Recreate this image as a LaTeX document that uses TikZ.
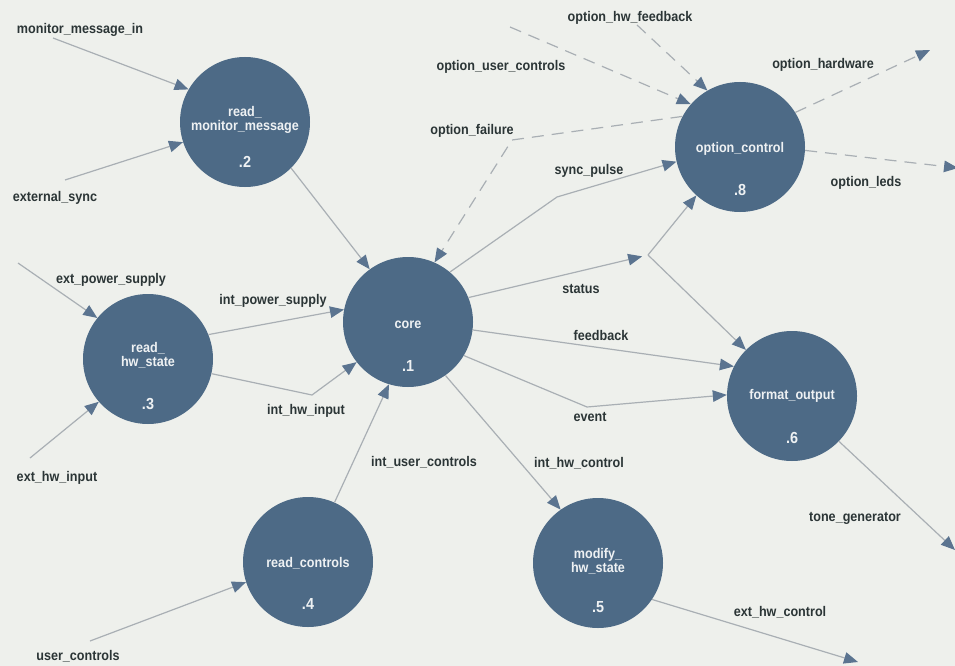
\documentclass[tikz,border=0pt]{standalone}
\usepackage{fontspec}
\setmainfont{Liberation Sans}[FakeStretch=0.9]
\usetikzlibrary{arrows.meta,calc}
\definecolor{paper}{HTML}{EEF0EC}
\definecolor{bubble}{HTML}{4D6A86}
\definecolor{wire}{HTML}{A9AFB4}
\definecolor{tip}{HTML}{5B7490}
\definecolor{ink}{HTML}{2B3536}
\definecolor{inner}{HTML}{EEF1F3}
\begin{document}
\begin{tikzpicture}[x=1pt,y=-1pt,
  proc/.style={circle,fill=bubble,draw=none,minimum size=130pt,inner sep=0pt},
  pname/.style={text=inner,font=\bfseries\fontsize{14}{15}\selectfont,align=center,inner sep=0pt},
  pnum/.style={text=inner,font=\bfseries\fontsize{16}{17}\selectfont,inner sep=0pt},
  flowlabel/.style={text=ink,font=\bfseries\fontsize{14}{15}\selectfont,inner sep=0pt},
  flow/.style={draw=wire,line width=1.2pt,
    -{Triangle[length=14pt,width=11.5pt,fill=tip,color=tip]}},
  optflow/.style={flow,dash pattern=on 12pt off 8pt}]
\useasboundingbox (0,0) rectangle (955,666);
\fill[paper] (0,0) rectangle (955,666);

% processes
\node[proc] (n1) at (408,322) {};
\node[proc] (n2) at (245,122) {};
\node[proc] (n3) at (148,359) {};
\node[proc] (n4) at (308,562) {};
\node[proc] (n5) at (598,563) {};
\node[proc] (n6) at (792,396) {};
\node[proc] (n8) at (740,147) {};

\node[pname] (n1t) at ($(n1)+(0,3)$) {core};
\node[pnum]  (n1n) at ($(n1)+(0,44)$) {.1};
\node[pname] (n2t) at ($(n2)+(0,-2)$) {read\_\\[-1pt]monitor\_message};
\node[pnum]  (n2n) at ($(n2)+(0,40)$) {.2};
\node[pname] (n3t) at ($(n3)+(0,-4)$) {read\_\\[-1pt]hw\_state};
\node[pnum]  (n3n) at ($(n3)+(0,45)$) {.3};
\node[pname] (n4t) at ($(n4)+(0,1)$) {read\_controls};
\node[pnum]  (n4n) at ($(n4)+(0,42)$) {.4};
\node[pname] (n5t) at ($(n5)+(0,-2)$) {modify\_\\[-1pt]hw\_state};
\node[pnum]  (n5n) at ($(n5)+(0,44)$) {.5};
\node[pname] (n6t) at ($(n6)+(0,0)$) {format\_output};
\node[pnum]  (n6n) at ($(n6)+(0,42)$) {.6};
\node[pname] (n8t) at ($(n8)+(0,2)$) {option\_control};
\node[pnum]  (n8n) at ($(n8)+(0,43)$) {.8};

% free ends and bends
\coordinate (mmi)  at (53,38);
\coordinate (esync) at (65,180);
\coordinate (eps)  at (18,263);
\coordinate (ehi)  at (30,458);
\coordinate (uc)   at (90,641);
\coordinate (ouc)  at (510,27);
\coordinate (ohf)  at (637,25);
\coordinate (ohw)  at (930,50);
\coordinate (oled) at (958,168);
\coordinate (tone) at (955,550);
\coordinate (ehc)  at (858,662);
\coordinate (bfail) at (512,140);
\coordinate (bsync) at (557,197);
\coordinate (bevent) at (587,407);
\coordinate (bhwin) at (312,395);
\coordinate (sj) at (648,255);

% solid flows
\draw[flow] (mmi) -- (n2.150);
\draw[flow] (esync) -- (n2.198);
\draw[flow] (n2.-45) -- (n1.126);
\draw[flow] (eps) -- (n3.141);
\draw[flow] (ehi) -- (n3.221);
\draw[flow] (n3.22) -- (n1.169.5);
\draw[flow] (n3.-13) -- (bhwin) -- (n1.218);
\draw[flow] (uc) -- (n4.198);
\draw[flow] (n4.66) -- (n1.253);
\draw[flow] (n1.50) -- (bsync) -- (n8.193);
\draw[flow,shorten >=6pt] (n1.22) -- (sj);
\draw[flow] (sj) -- (n8.228);
\draw[flow] (sj) -- (n6.135);
\draw[flow] (n1.-7) -- (n6.153);
\draw[flow] (n1.-31) -- (bevent) -- (n6.179);
\draw[flow] (n1.-55) -- (n5.125);
\draw[flow] (n5.-34) -- (ehc);
\draw[flow] (n6.-44) -- (tone);

% optional (dashed) flows
\draw[optflow] (ouc) -- (n8.139);
\draw[optflow] (ohf) -- (n8.120);
\draw[optflow] (n8.152) -- (bfail) -- (n1.66);
\draw[optflow] (n8.32) -- (ohw);
\draw[optflow] (n8.-3) -- (oled);

% flow names
\node[flowlabel] (l1)  at (80,30)   {monitor\_message\_in};
\node[flowlabel] (l2)  at (55,198)  {external\_sync};
\node[flowlabel] (l3)  at (111,280) {ext\_power\_supply};
\node[flowlabel] (l4)  at (57,478)  {ext\_hw\_input};
\node[flowlabel] (l5)  at (273,301) {int\_power\_supply};
\node[flowlabel] (l6)  at (306,411) {int\_hw\_input};
\node[flowlabel] (l7)  at (424,462) {int\_user\_controls};
\node[flowlabel] (l8)  at (78,656)  {user\_controls};
\node[flowlabel] (l9)  at (630,18)  {option\_hw\_feedback};
\node[flowlabel] (l10) at (501,67)  {option\_user\_controls};
\node[flowlabel] (l11) at (823,65)  {option\_hardware};
\node[flowlabel] (l12) at (472,131) {option\_failure};
\node[flowlabel] (l13) at (589,171) {sync\_pulse};
\node[flowlabel] (l14) at (866,183) {option\_leds};
\node[flowlabel] (l15) at (581,289) {status};
\node[flowlabel] (l16) at (601,335) {feedback};
\node[flowlabel] (l17) at (590,417) {event};
\node[flowlabel] (l18) at (579,463) {int\_hw\_control};
\node[flowlabel] (l19) at (855,518) {tone\_generator};
\node[flowlabel] (l20) at (780,612) {ext\_hw\_control};
\end{tikzpicture}
\end{document}
